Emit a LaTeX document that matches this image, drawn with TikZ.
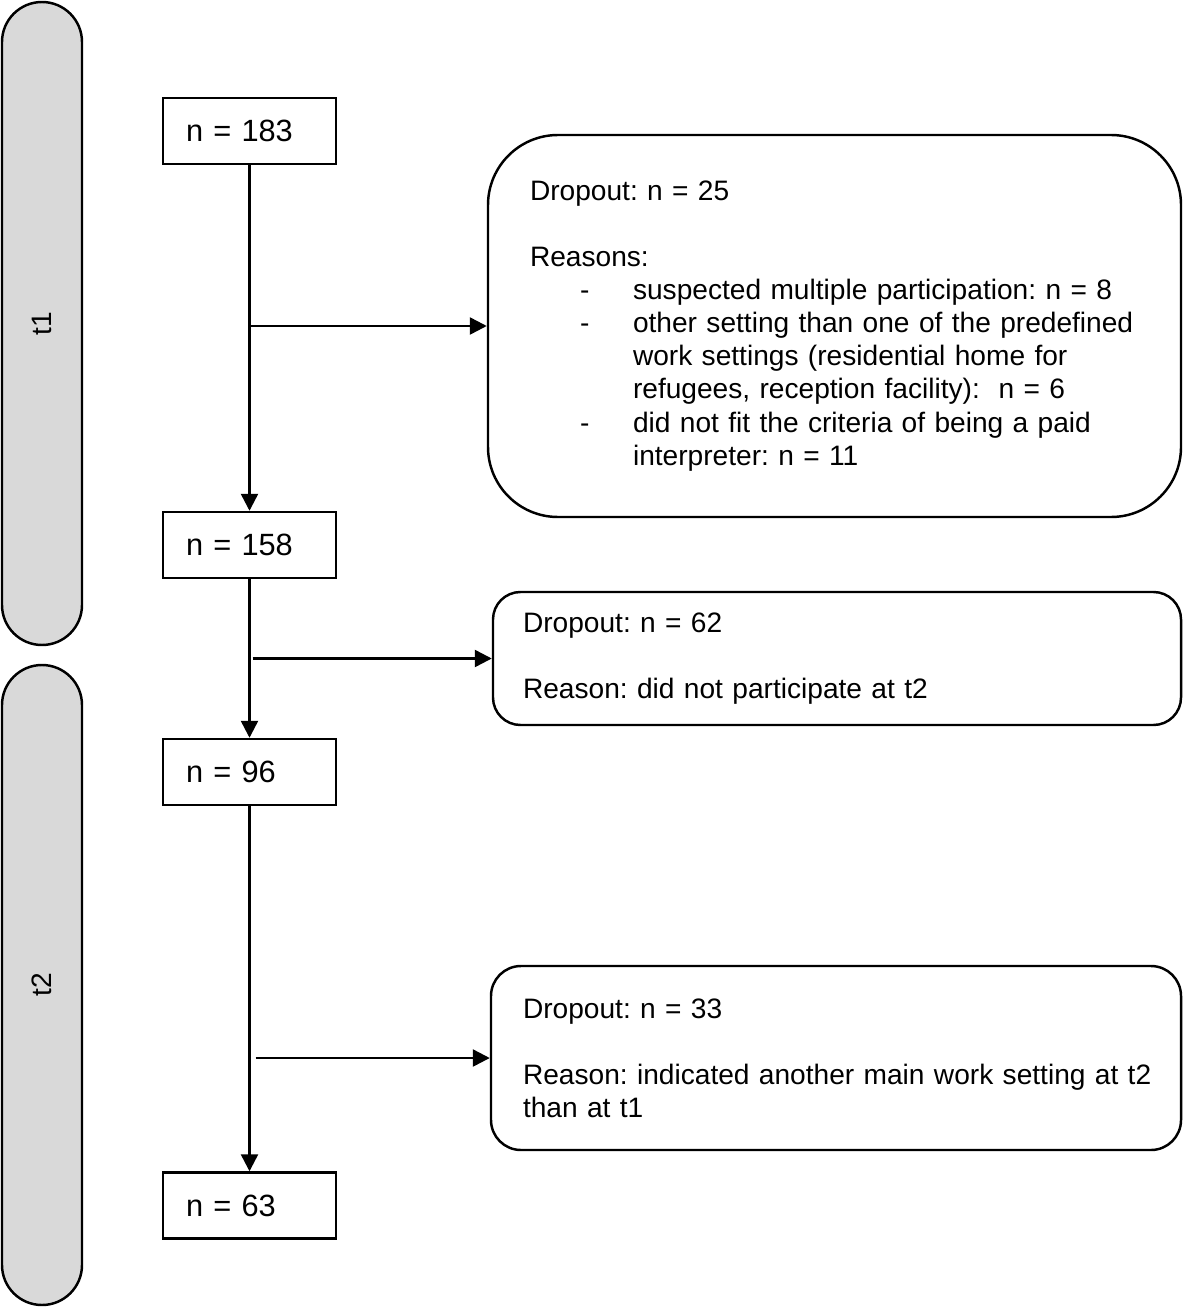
\documentclass[tikz,border=0pt]{standalone}
\usepackage{fontspec}
\setmainfont{Liberation Sans}
\usepackage{tikz}
\usetikzlibrary{positioning, arrows.meta, calc}
\definecolor{phasegray}{RGB}{217,217,217}
\tikzset{
  phase/.style={rectangle, rounded corners=0.8cm, minimum height=1.6cm, text centered, draw=black, fill=phasegray, line width=1.4pt, rotate=90, font=\fontsize{16}{19}\selectfont},
  count/.style={rectangle, minimum width=3.46cm, minimum height=1.32cm, text width=2.54cm, inner xsep=0.46cm, align=left, draw=black, line width=1.4pt, font=\fontsize{17.5}{21}\selectfont},
  dropbox/.style={rectangle, align=left, draw=black, line width=1.4pt, font=\fontsize{16}{18.8}\selectfont},
  arrow/.style={line width=1.4pt,-{Triangle[length=0.34cm, width=0.34cm]}}
}
\frenchspacing
\newcommand{\dropitem}[1]{\hspace*{1.0cm}\makebox[1.06cm][l]{-}#1}
\newcommand{\dropcont}[1]{\hspace*{2.06cm}#1}

\begin{document}
\begin{tikzpicture}
        \useasboundingbox (0,0) rectangle (23.68,-26.16);

        % 1. Time points on the left
        \node[phase, minimum width=12.86cm] (t1) at (0.84, -6.47) {t1};
        \node[phase, minimum width=12.8cm] (t2) at (0.84, -19.7) {t2};

        % 2. Sample sizes
        \node[count] (n183) at (4.99, -2.62) {n = 183};
        \node[count] (n158) at (4.99, -10.9) {n = 158};
        \node[count] (n96) at (4.99, -15.44) {n = 96};
        \node[count] (n63) at (4.99, -24.11) {n = 63};

        % 3. Dropout boxes
        \node[dropbox, rounded corners=1.4cm, minimum height=7.64cm, inner xsep=0.84cm, text width=12.18cm] (drop1) at (16.69, -6.52) {%
            Dropout: n = 25\\[18.8pt]
            Reasons:\\
            \dropitem{suspected multiple participation: n = 8}\\
            \dropitem{other setting than one of the predefined}\\
            \dropcont{work settings (residential home for}\\
            \dropcont{refugees, reception facility):\ \ n = 6}\\
            \dropitem{did not fit the criteria of being a paid}\\
            \dropcont{interpreter: n = 11}};
        \node[dropbox, rounded corners=0.55cm, minimum height=2.66cm, inner xsep=0.6cm, text width=12.56cm] (drop2) at (16.74, -13.17) {%
            Dropout: n = 62\\[18.8pt]
            Reason: did not participate at t2};
        \node[dropbox, rounded corners=0.6cm, minimum height=3.68cm, inner xsep=0.64cm, text width=12.52cm] (drop3) at (16.72, -21.16) {%
            Dropout: n = 33\\[18.8pt]
            \mbox{Reason: indicated another main work setting at t2}\\
            than at t1};

        % 4. Arrows
        \draw[arrow] (n183) -- (n158);
        \draw[arrow] (n158) -- (n96);
        \draw[arrow] (n96) -- (n63);
        \draw[arrow] (n183.south |- drop1.west) -- (drop1.west);
        \draw[arrow] ([xshift=0.06cm]n158.south |- drop2.west) -- (drop2.west);
        \draw[arrow] ([xshift=0.12cm]n96.south |- drop3.west) -- (drop3.west);

    \end{tikzpicture}
\end{document}
